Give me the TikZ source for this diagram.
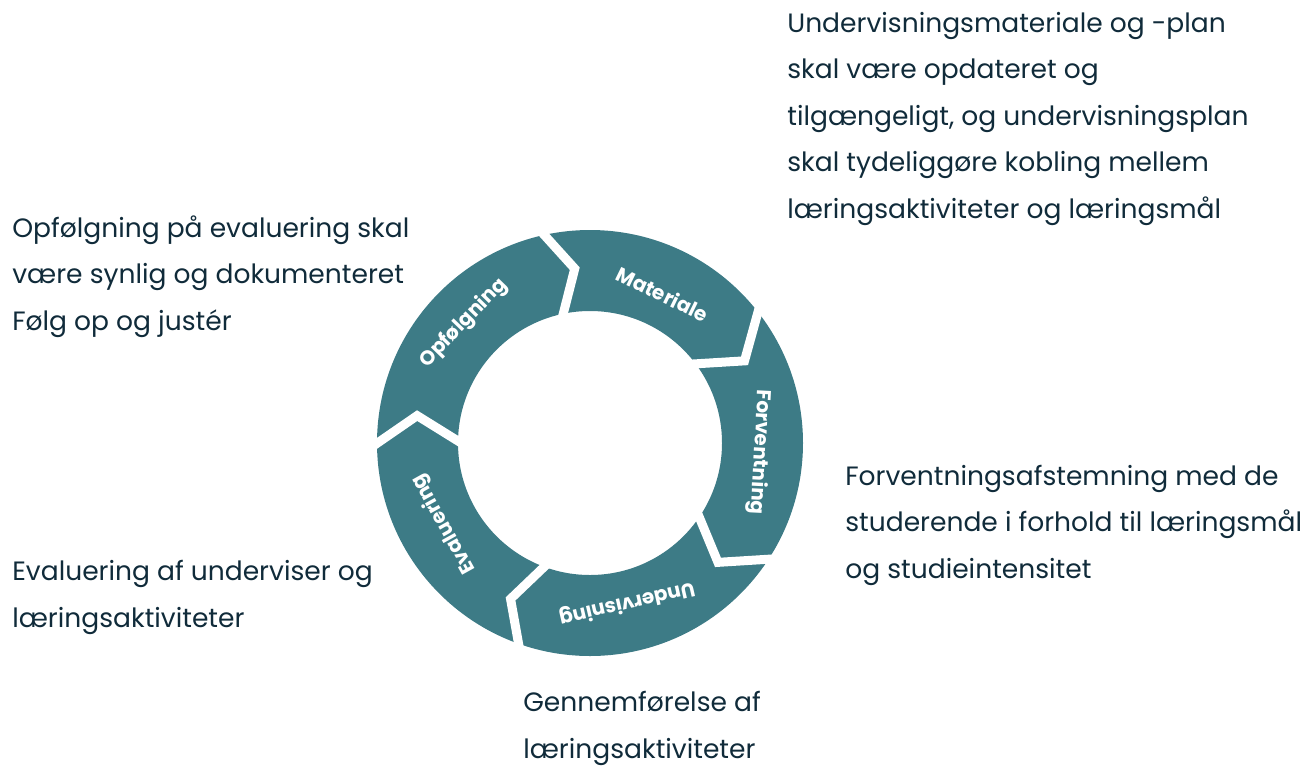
\documentclass[tikz,border=0pt]{standalone}
\usepackage{fontspec}
\setmainfont{Poppins}
\definecolor{ringteal}{HTML}{3D7B86}
\definecolor{inktext}{HTML}{102B3A}

\begin{document}
\begin{tikzpicture}[x=0.02cm,y=-0.02cm]
\tikzstyle{every node}+=[inner sep=0pt]
\tikzstyle{note}=[anchor=base west,align=left,text=inktext,font=\fontsize{15.1}{26.4}\selectfont]
\tikzstyle{steplabel}=[text=white,font=\fontsize{11.4}{14}\selectfont\bfseries]
\tikzstyle{cut}=[white,line width=0.18cm]
\useasboundingbox (0,0) rectangle (1316,765);
\begin{scope}[shift={(590,443)},y=0.02cm]
\fill [ringteal,even odd rule] (0,0) circle (213) (0,0) circle (132);
\draw [cut] (104:224) -- (95:175) -- (104:122);
\draw [cut] (40:224) -- (28:175) -- (40:122);
\draw [cut] (-31:224) -- (-43:175) -- (-31:122);
\draw [cut] (-108:224) -- (-117:175) -- (-108:122);
\draw [cut] (182:224) -- (171:175) -- (182:122);
\node [steplabel,rotate=-26] (materiale) at (64:166) {Materiale};
\node [steplabel,rotate=-93] (forventning) at (-3:170) {Forventning};
\node [steplabel,rotate=-167] (undervisning) at (-77:164) {Undervisning};
\node [steplabel,rotate=119] (evaluering) at (209:167) {Evaluering};
\node [steplabel,rotate=46] (opfolgning) at (136.5:174) {Opfølgning};
\end{scope}
\node [note] (planNote) at (787,218) {Undervisningsmateriale og -plan\\skal være opdateret og\\tilgængeligt, og undervisningsplan\\skal tydeliggøre kobling mellem\\læringsaktiviteter og læringsmål};
\node [note] (followNote) at (12,330) {Opfølgning på evaluering skal\\være synlig og dokumenteret\\Følg op og justér};
\node [note] (expectNote) at (845,578) {Forventningsafstemning med de\\studerende i forhold til læringsmål\\og studieintensitet};
\node [note] (evalNote) at (12,627) {Evaluering af underviser og\\læringsaktiviteter};
\node [note] (teachNote) at (523,758) {Gennemførelse af\\læringsaktiviteter};
\end{tikzpicture}
\end{document}
